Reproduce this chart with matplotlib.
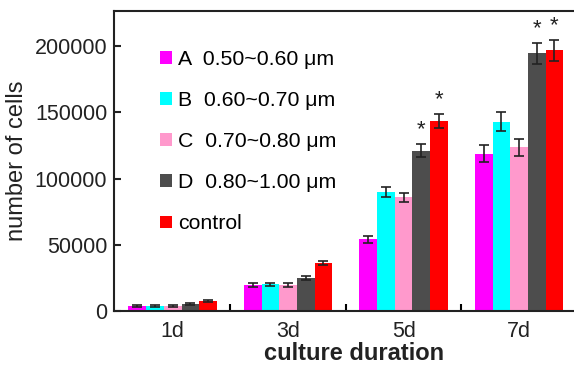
"""Cell counts by culture duration for four pore-size groups and a control."""

import matplotlib
matplotlib.use("Agg")
import matplotlib.pyplot as plt
import numpy as np

plt.rcParams["font.family"] = ["Liberation Sans", "DejaVu Sans"]

days = ["1d", "3d", "5d", "7d"]
groups = ["A  0.50~0.60 μm", "B  0.60~0.70 μm", "C  0.70~0.80 μm",
          "D  0.80~1.00 μm", "control"]
colors = ["#ff00ff", "#00ffff", "#ff99cc", "#4d4d4d", "#ff0000"]

group_a = [3500, 19600, 54000, 118700]
group_b = [4000, 20000, 89800, 142900]
group_c = [4000, 19600, 85800, 123500]
group_d = [5500, 24700, 121000, 194500]
control = [7500, 36000, 143400, 196700]

err_a = [800, 1500, 2500, 6300]
err_b = [800, 1500, 3500, 7200]
err_c = [800, 1500, 3500, 6300]
err_d = [800, 1500, 5000, 7900]
err_ctrl = [1000, 1500, 5000, 7700]

# (group index, day index) pairs marked significant
stars = [(3, 2), (4, 2), (3, 3), (4, 3)]

values = [group_a, group_b, group_c, group_d, control]
errors = [err_a, err_b, err_c, err_d, err_ctrl]

fig = plt.figure(figsize=(5.74, 3.65), dpi=100)
ax = fig.add_axes([0.199, 0.148, 0.80, 0.822])

x = np.arange(len(days))
width = 0.153
for i, (vals, errs, col, name) in enumerate(zip(values, errors, colors, groups)):
    pos = x + (i - 2) * width
    ax.bar(pos, vals, width, color=col, label=name, zorder=2)
    ax.errorbar(pos, vals, yerr=errs, fmt="none", ecolor="#222222",
                elinewidth=1.2, capsize=3.5, capthick=1.2, zorder=3)

for gi, di in stars:
    top = values[gi][di] + errors[gi][di]
    ax.text(x[di] + (gi - 2) * width, top + 3000, "*", ha="center",
            va="bottom", fontsize=16, color="#222222")

ax.set_xlim(-0.506, 3.47)
ax.set_ylim(0, 226500)
ax.set_yticks([0, 50000, 100000, 150000, 200000])
ax.set_xticks(x)
ax.set_xticklabels(days)
ax.set_xticks(x[:-1] + 0.5, minor=True)
ax.tick_params(axis="x", which="major", length=0, pad=7, labelsize=15.5,
               colors="#222222")
ax.tick_params(axis="x", which="minor", direction="in", length=5, width=1.5)
ax.tick_params(axis="y", direction="in", length=5, width=1.5, labelsize=15.5,
               colors="#222222", pad=5)

for side in ["left", "bottom", "top"]:
    ax.spines[side].set_linewidth(1.5)
    ax.spines[side].set_color("#222222")
ax.spines["right"].set_visible(False)

ax.set_ylabel("number of cells", fontsize=17, labelpad=5, color="#222222")
ax.set_xlabel("culture duration", fontsize=17, fontweight="bold", labelpad=0,
              color="#222222")
ax.xaxis.set_label_coords(0.523, -0.103)

ax.legend(loc="upper left", bbox_to_anchor=(0.082, 0.898), frameon=False,
          fontsize=15.3, handlelength=0.55, handleheight=0.55,
          handletextpad=0.3, labelspacing=1.04, borderaxespad=0)

fig.savefig("out.png", dpi=100)
plt.close(fig)
